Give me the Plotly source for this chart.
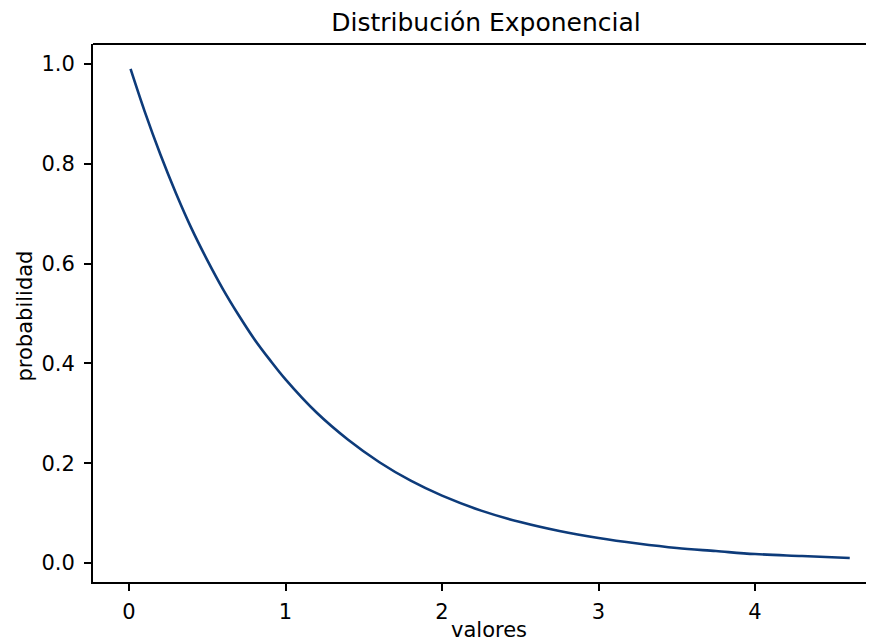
import plotly.graph_objects as go

# values
x_vals = [0.01, 0.1, 0.2, 0.3, 0.4, 0.5, 0.6, 0.7, 0.8, 0.9, 1.0, 1.2, 1.4, 1.6, 1.8,
          2.0, 2.25, 2.5, 2.75, 3.0, 3.25, 3.5, 3.75, 4.0, 4.3, 4.605]
y_vals = [0.990, 0.905, 0.819, 0.741, 0.670, 0.607, 0.549, 0.497, 0.449, 0.407, 0.368,
          0.301, 0.247, 0.202, 0.165, 0.135, 0.105, 0.082, 0.064, 0.050, 0.039, 0.030,
          0.024, 0.018, 0.014, 0.010]
x_ticks = [0, 1, 2, 3, 4]
y_ticks = [0.0, 0.2, 0.4, 0.6, 0.8, 1.0]
y_tick_labels = ["0.0", "0.2", "0.4", "0.6", "0.8", "1.0"]

fig = go.Figure()
fig.add_trace(go.Scatter(x=x_vals, y=y_vals, mode="lines", line_shape="spline",
                         line=dict(color="#0d3b7a", width=2.6), showlegend=False))

font = "DejaVu Sans"
# page has an 8px body margin, so figure is 866x636 placed at (8, 8)
fig.update_layout(
    width=866, height=636,
    margin=dict(l=85, r=0, t=36, b=62, autoexpand=False),
    paper_bgcolor="white", plot_bgcolor="white",
    font=dict(family=font, size=21, color="black"),
    title=dict(text="Distribución Exponencial", x=478 / 866, xref="container",
               y=1 - 14 / 636, yref="container", yanchor="middle", xanchor="center",
               font=dict(size=25)),
)
fig.update_xaxes(range=[-0.23, 4.76], tickvals=x_ticks, showgrid=False, zeroline=False,
                 showline=True, linecolor="black", linewidth=1.8, automargin=False,
                 ticks="outside", ticklen=7, tickwidth=1.5, tickcolor="black",
                 ticklabelstandoff=3)
fig.update_yaxes(range=[-0.038, 1.040], tickvals=y_ticks, ticktext=y_tick_labels,
                 showgrid=False, zeroline=False, automargin=False,
                 showline=True, linecolor="black", linewidth=1.8,
                 ticks="outside", ticklen=7, tickwidth=1.5, tickcolor="black",
                 ticklabelstandoff=5)
fig.add_shape(type="line", xref="paper", yref="paper", x0=0, x1=1, y0=1, y1=1,
              line=dict(color="black", width=1.8))
fig.add_annotation(text="valores", xref="paper", yref="paper", x=(481 - 85) / 781,
                   y=(574 - 636) / 538, xanchor="center", yanchor="bottom",
                   showarrow=False, font=dict(size=21))
fig.add_annotation(text="probabilidad", xref="paper", yref="paper", x=(16 - 85) / 781,
                   y=(574 - 308.5) / 538, xanchor="center", yanchor="middle",
                   textangle=-90, showarrow=False, font=dict(size=21))

fig.write_html("out.html")
